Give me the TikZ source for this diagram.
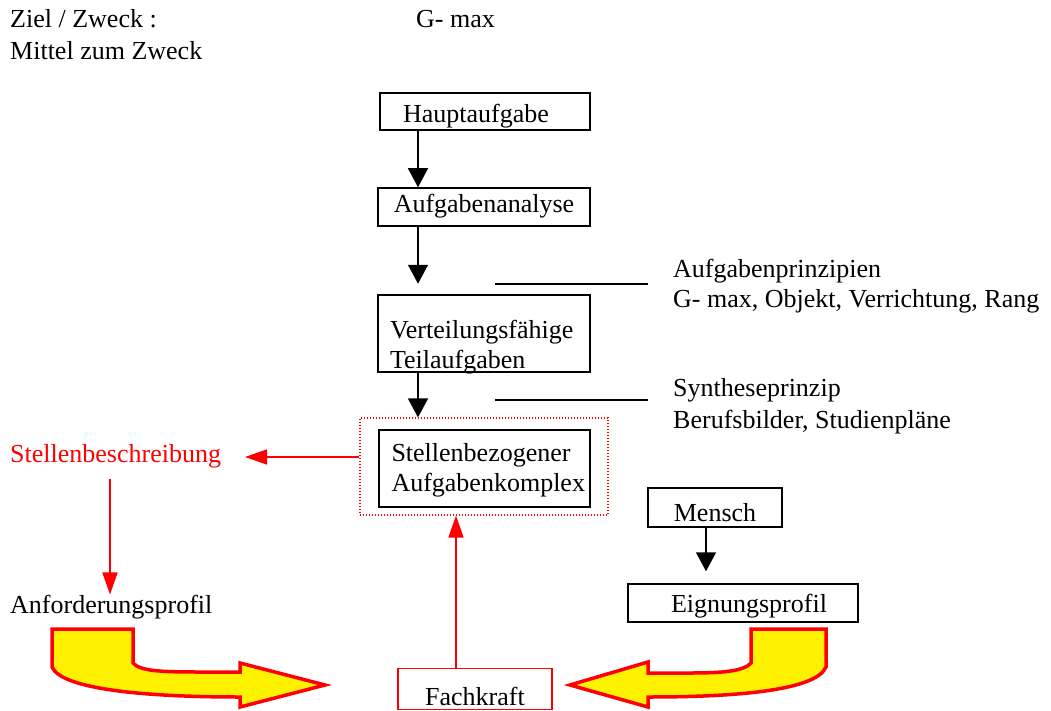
\documentclass[tikz,border=0pt]{standalone}
\usepackage{fontspec}
\setmainfont{Liberation Serif}
\usetikzlibrary{arrows.meta}
\usetikzlibrary{positioning}
\tikzset{
    kasten/.style={
           rectangle,
           draw=black, line width=1.5pt,
           inner sep=0pt,
           },
}
\tikzset{
    rotkasten/.style={
           rectangle,
           draw=red, line width=1.5pt,
           inner sep=0pt,
           },
}
\tikzset{
    rahmen/.style={
           rectangle,
           draw=red, line width=1.2pt,
           dash pattern=on 1.3pt off 1.7pt,
           inner sep=0pt,
           },
}
\tikzset{
    txt/.style={inner sep=0pt, anchor=base west},
    hoch/.style 2 args={text height=#1, text depth=#2},
    pfeil/.style={line width=1.5pt, -{Triangle[width=20pt,length=19pt]}},
    rotpfeil/.style={red, line width=1.6pt, -{Triangle[width=15pt,length=22pt]}},
    gelbpfeil/.style={draw=red, line width=3.5pt, fill=yellow},
}

\begin{document}
\begin{tikzpicture}[x=1pt,y=-1pt,font=\fontsize{26}{30}\selectfont]
\useasboundingbox (0,0) rectangle (1051,711);
\node[txt](ziel) at (10,28){Ziel / Zweck :};
\node[txt](mittel) at (10,60){Mittel zum Zweck};
\node[txt](gmax) at (416,28){G- max};
\node[kasten,hoch={28pt}{6pt},minimum width=210pt,minimum height=37pt,text width=164pt,align=left](haupt) at (485,111.5){Hauptaufgabe};
\node[kasten,hoch={18pt}{6pt},minimum width=212pt,minimum height=38pt](analyse) at (484,207){Aufgabenanalyse};
\node[kasten,hoch={43pt}{34pt},minimum width=212pt,minimum height=77pt,text width=188pt,align=left](vert) at (484,333.5){Verteilungsfähige\\Teilaufgaben};
\node[rahmen,minimum width=248pt,minimum height=97pt](rahmen) at (484,466.5){};
\node[kasten,hoch={20pt}{34pt},minimum width=211pt,minimum height=77pt,text width=186pt,align=left](komplex) at (484.5,468.5){Stellenbezogener\\Aufgabenkomplex};
\node[txt](prinzip) at (673,277){Aufgabenprinzipien};
\node[txt](prinzip2) at (673,307){G- max, Objekt, Verrichtung, Rang};
\node[txt](synth) at (673,396){Syntheseprinzip};
\node[txt](beruf) at (673,428){Berufsbilder, Studienpläne};
\node[txt,red](sb) at (10,462){Stellenbeschreibung};
\node[txt](anf) at (10,613){Anforderungsprofil};
\node[kasten,hoch={32pt}{5pt},minimum width=134pt,minimum height=39pt](mensch) at (715,507.5){Mensch};
\node[kasten,hoch={24pt}{6pt},minimum width=230pt,minimum height=38pt,text width=144pt,align=left](eign) at (743,603){Eignungsprofil};
\node[rotkasten,hoch={36pt}{4pt},minimum width=154pt,minimum height=41pt](fach) at (475,689){Fachkraft};
% Pfeile
\coordinate (pfx) at (418,0);
\coordinate (rx) at (110,0);
\coordinate (fx) at (456,0);
\coordinate (mx) at (706,0);
\coordinate (sbp) at (245,457);
\draw[pfeil] (haupt.south -| pfx) -- (analyse.north -| pfx);
\draw[pfeil] (analyse.south -| pfx) -- ++(0,57);
\draw[pfeil] (vert.south -| pfx) -- (rahmen.north -| pfx);
\draw[pfeil,shorten >=12pt] (mensch.south -| mx) -- (eign.north -| mx);
\draw[rotpfeil] (rahmen.west |- sbp) -- (sbp);
\draw[rotpfeil,shorten <=11pt] (sb.south -| rx) -- (anf.north -| rx);
\draw[rotpfeil] (fach.north -| fx) -- (rahmen.south -| fx);
% Linien
\coordinate (l1) at (495,284);
\coordinate (l2) at (495,400);
\draw[line width=1.5pt] (l1) -- ++(153,0);
\draw[line width=1.5pt] (l2) -- ++(153,0);
% gelbe Pfeile
\draw[gelbpfeil] (52,629) -- (133,629) -- (133,663) .. controls (140,671) and (160,672) .. (200,672) -- (240,672) -- (240,663) -- (325,685) -- (240,707) -- (240,697) .. controls (150,697) and (62,690) .. (52,667) -- cycle;
\draw[gelbpfeil] (826,629) -- (751,629) -- (751,663) .. controls (744,671) and (724,673) .. (690,673) -- (648,673) -- (648,662) -- (570,685) -- (648,707) -- (648,697) .. controls (740,697) and (816,690) .. (826,667) -- cycle;
\end{tikzpicture}
\end{document}
